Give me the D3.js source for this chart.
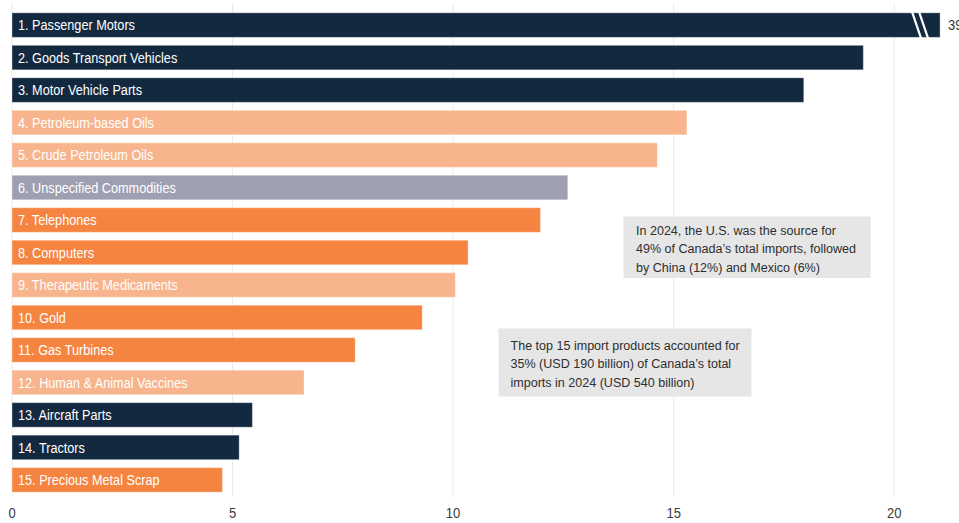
<!DOCTYPE html>
<html><head><meta charset="utf-8">
<script src="https://cdn.jsdelivr.net/npm/d3@7"></script>
<style>
html,body{margin:0;padding:0;background:#fff;}
svg{display:block;}
text{font-family:"Liberation Sans",Arial,sans-serif;}
</style></head>
<body>
<svg id="chart" width="959" height="523"></svg>
<script>
const categories = ["1. Passenger Motors","2. Goods Transport Vehicles","3. Motor Vehicle Parts","4. Petroleum-based Oils","5. Crude Petroleum Oils","6. Unspecified Commodities","7. Telephones","8. Computers","9. Therapeutic Medicaments","10. Gold","11. Gas Turbines","12. Human & Animal Vaccines","13. Aircraft Parts","14. Tractors","15. Precious Metal Scrap"];
const values = [39, 19.3, 17.95, 15.3, 14.63, 12.6, 11.98, 10.34, 10.05, 9.3, 7.78, 6.62, 5.45, 5.15, 4.77];
const groups = ["auto","auto","auto","energy","energy","other","tech","tech","energy","tech","tech","energy","auto","auto","tech"];
const xTicks = [0, 5, 10, 15, 20];
const brokenCap = 21.04;
const notes = [
  ["In 2024, the U.S. was the source for","49% of Canada\u2019s total imports, followed","by China (12%) and Mexico (6%)"],
  ["The top 15 import products accounted for","35% (USD 190 billion) of Canada\u2019s total","imports in 2024 (USD 540 billion)"]
];

const colors = {auto:"#13293f", energy:"#f8b48c", other:"#9e9fb1", tech:"#f58441"};
const svg = d3.select("#chart");
const x = d3.scaleLinear().domain([0,20]).range([12,894.2]);
const y = d3.scaleBand().domain(categories).range([8.6,496.4]).paddingInner(0.245).paddingOuter(0.13);

// gridlines
svg.append("g").selectAll("line").data(xTicks).join("line")
  .attr("x1",d=>x(d)).attr("x2",d=>x(d)).attr("y1",3).attr("y2",497)
  .attr("stroke","#ebebeb").attr("stroke-width",1);

// axis
const axis = svg.append("g").attr("transform","translate(0,497)")
  .call(d3.axisBottom(x).tickValues(xTicks).tickSize(0).tickPadding(11).tickFormat(d3.format("d")));
axis.select(".domain").remove();
axis.selectAll("text").attr("font-size",14.5).attr("fill","#3a3a3a")
  .attr("transform","scale(0.9,1)")
  .style("font-family","'Liberation Sans',Arial,sans-serif");
axis.selectAll(".tick").each(function(d){
  d3.select(this).attr("transform",`translate(${x(d)},0)`);
});

// bars
svg.append("g").selectAll("rect").data(categories).join("rect")
  .attr("x",x(0)).attr("y",d=>y(d))
  .attr("width",(d,i)=>x(Math.min(values[i],brokenCap))-x(0))
  .attr("height",y.bandwidth())
  .attr("fill",(d,i)=>colors[groups[i]])
  .attr("stroke","rgba(255,255,255,0.35)").attr("stroke-width",1);

// break marks on first bar
const b0 = categories[0];
[0,7].forEach(off=>{
  svg.append("line")
    .attr("x1",x(brokenCap)-28+off).attr("y1",y(b0)-1)
    .attr("x2",x(brokenCap)-19+off).attr("y2",y(b0)+y.bandwidth()+1)
    .attr("stroke","#fff").attr("stroke-width",2.2);
});

// value label for broken bar
svg.append("text")
  .attr("transform",`translate(${x(brokenCap)+8},${y(b0)+y.bandwidth()/2}) scale(0.9,1)`)
  .attr("dy","0.35em").attr("font-size",14.5).attr("fill","#333").text(values[0]);

// labels inside bars
svg.append("g").selectAll("text").data(categories).join("text")
  .attr("transform",d=>`translate(${x(0)+6},${y(d)+y.bandwidth()/2}) scale(0.875,1)`)
  .attr("dy","0.36em")
  .attr("font-size",14.5).attr("fill","#fff").text(d=>d);

// annotations
const boxes = [
  {x0:623.5, y0:216.5, w:247, h:61.5, tx:636, ty:229.8},
  {x0:498.5, y0:328.5, w:253, h:68, tx:510.5, ty:345}
];
boxes.forEach((b,i)=>{
  svg.append("rect").attr("x",b.x0).attr("y",b.y0).attr("width",b.w).attr("height",b.h).attr("fill","#e6e6e6");
  const g = svg.append("g").attr("transform",`translate(${b.tx},${b.ty}) scale(0.93,1)`);
  notes[i].forEach((line,j)=>{
    g.append("text").attr("x",0).attr("y",j*18.7).attr("dy","0.35em")
      .attr("font-size",13.5).attr("fill","#2e2e2e").text(line);
  });
});
</script>
</body></html>
